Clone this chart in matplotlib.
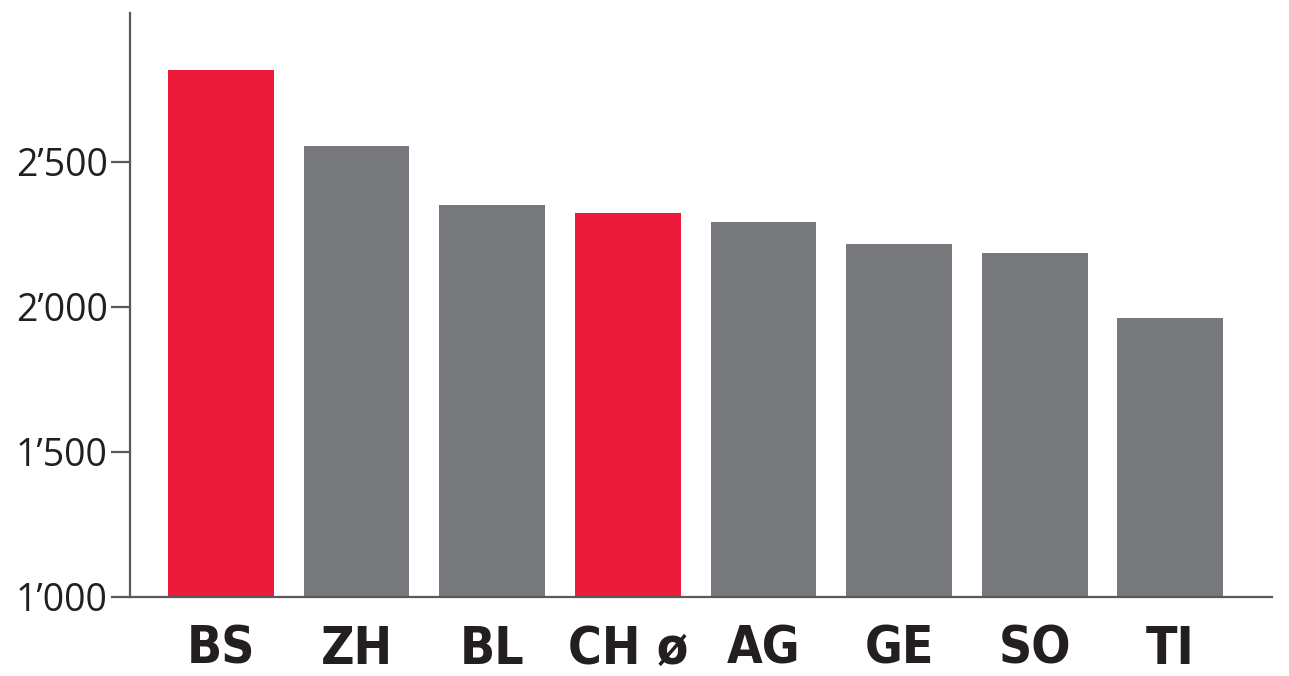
#importing modules
import matplotlib
matplotlib.use('Agg')
from matplotlib import pyplot as plt
from matplotlib.ticker import FuncFormatter

#data
cantons = ['BS', 'ZH', 'BL', 'CH ø', 'AG', 'GE', 'SO', 'TI']
values = [2815, 2555, 2352, 2324, 2293, 2217, 2186, 1962]
highlight = ['BS', 'CH ø']
yticks = [1000, 1500, 2000, 2500]

red = '#ED1B3A'
grey = '#77787B'
colors = [red if c in highlight else grey for c in cantons]

#sizing the plot
fig = plt.figure(figsize=(12.89, 6.76), dpi=100)
ax = fig.add_axes([0.1009, 0.1169, 0.8859, 0.8639])

x = range(len(cantons))
ax.bar(x, values, width=0.78, color=colors, bottom=0)

ax.set_xlim(-0.67, 7.75)
ax.set_ylim(1000, 3012)
ax.set_yticks(yticks)
ax.yaxis.set_major_formatter(FuncFormatter(lambda v, p: f"{int(v):,}".replace(',', '\u2019')))
ax.set_xticks(list(x))
ax.set_xticklabels(cantons, family=['DejaVu Sans'], fontweight='bold',
                   fontstretch='condensed', fontsize=37, color='#231F20')

#spines
for s in ['top', 'right']:
    ax.spines[s].set_visible(False)
for s in ['left', 'bottom']:
    ax.spines[s].set_color('#58595B')
    ax.spines[s].set_linewidth(1.6)

ax.tick_params(axis='y', length=14, width=1.6, color='#58595B', labelsize=27,
               labelcolor='#231F20', pad=2)
for t in ax.get_yticklabels():
    t.set_family('Open Sans')
ax.tick_params(axis='x', length=0, pad=20)

#saving the graph
plt.savefig('out.png', dpi=100)
